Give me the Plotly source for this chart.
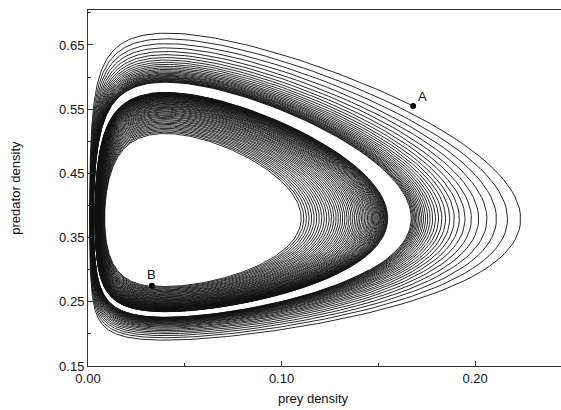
import numpy as np
import plotly.graph_objects as go

# ---- values ----
PREY_EQ = 0.040        # prey density at which predators neither grow nor decline
PRED_EQ = 0.38         # predator density at which prey neither grow nor decline
ALPHA = 1.6            # relative strength of predation on prey
BETA = 1.0             # relative strength of predator response
CYCLE_LEVEL = 0.064    # level of the limit cycle
RELAX = 0.075          # attraction towards the cycle
PREY_REF = 0.10        # prey density scale of the attraction (acts mostly at high prey)
START_A = [0.168, 0.555]
START_B = [0.033, 0.275]
STOP_GAP_A = 0.0055
STOP_GAP_B = 0.0032
X_TICKS = [0.00, 0.10, 0.20]
Y_TICKS = [0.15, 0.25, 0.35, 0.45, 0.55, 0.65]
X_RANGE = [0.0, 0.2444]
Y_RANGE = [0.15, 0.7045]

H_EQ = BETA * (PREY_EQ - PREY_EQ * np.log(PREY_EQ)) + ALPHA * (PRED_EQ - PRED_EQ * np.log(PRED_EQ))


def level(x, y):
    return BETA * (x - PREY_EQ * np.log(x)) + ALPHA * (y - PRED_EQ * np.log(y)) - H_EQ


def rhs(u, v):
    x, y = np.exp(u), np.exp(v)
    hu = BETA * (x - PREY_EQ)
    hv = ALPHA * (y - PRED_EQ)
    d = (level(x, y) - CYCLE_LEVEL) * RELAX * (x / PREY_REF)
    return -hv - d * hu, hu - d * hv


def trajectory(start, gap, dt=0.04, keep=3, max_steps=600000):
    u, v = np.log(start[0]), np.log(start[1])
    xs, ys = [start[0]], [start[1]]
    for i in range(max_steps):
        k1 = rhs(u, v)
        k2 = rhs(u + 0.5 * dt * k1[0], v + 0.5 * dt * k1[1])
        k3 = rhs(u + 0.5 * dt * k2[0], v + 0.5 * dt * k2[1])
        k4 = rhs(u + dt * k3[0], v + dt * k3[1])
        u += dt / 6 * (k1[0] + 2 * k2[0] + 2 * k3[0] + k4[0])
        v += dt / 6 * (k1[1] + 2 * k2[1] + 2 * k3[1] + k4[1])
        if i % keep == 0:
            xs.append(float(np.exp(u)))
            ys.append(float(np.exp(v)))
        if abs(level(np.exp(u), np.exp(v)) - CYCLE_LEVEL) < gap:
            break
    return xs, ys


ax, ay = trajectory(START_A, STOP_GAP_A)
bx, by = trajectory(START_B, STOP_GAP_B)

fig = go.Figure()
for xs, ys in [(ax, ay), (bx, by)]:
    fig.add_trace(go.Scatter(x=xs, y=ys, mode="lines",
                             line=dict(color="#111111", width=0.9),
                             hoverinfo="skip", showlegend=False))
fig.add_trace(go.Scatter(x=[START_A[0], START_B[0]], y=[START_A[1], START_B[1]],
                         mode="markers", marker=dict(color="#000000", size=6),
                         showlegend=False, hoverinfo="skip"))

font = dict(family="Liberation Sans, Arial, sans-serif", size=13, color="#111111")
fig.add_annotation(x=START_A[0], y=START_A[1], text="A", showarrow=False,
                   xanchor="left", yanchor="bottom", xshift=3, yshift=0, font=font)
fig.add_annotation(x=START_B[0], y=START_B[1], text="B", showarrow=False,
                   xanchor="center", yanchor="bottom", yshift=2, font=font)
fig.add_annotation(x=0.4757, y=-0.09, xref="paper", yref="paper", text="prey density",
                   showarrow=False, xanchor="center", yanchor="middle", font=font)
fig.add_annotation(x=-0.155, y=0.5, xref="paper", yref="paper", text="predator density",
                   showarrow=False, textangle=-90, xanchor="center", yanchor="middle", font=font)

fig.update_xaxes(range=X_RANGE, tickvals=X_TICKS, ticktext=[f"{t:.2f}" for t in X_TICKS],
                 ticks="inside", ticklen=5, tickcolor="#333", showline=True, linecolor="#333",
                 linewidth=1, mirror=True, showgrid=False, zeroline=False,
                 minor=dict(ticks="inside", ticklen=3, tickvals=[0.05, 0.15], tickcolor="#333"),
                 tickfont=font)
fig.update_yaxes(range=Y_RANGE, tickvals=Y_TICKS, ticktext=[f"{t:.2f}" for t in Y_TICKS],
                 ticks="inside", ticklen=5, tickcolor="#333", showline=True, linecolor="#333",
                 linewidth=1, showgrid=False, zeroline=False,
                 minor=dict(ticks="inside", ticklen=3, tickvals=[0.20, 0.30, 0.40, 0.50, 0.60, 0.70], tickcolor="#333"),
                 tickfont=font)
fig.update_layout(width=561, height=410, margin=dict(l=88, r=0, t=10, b=44),
                  paper_bgcolor="white", plot_bgcolor="white")
fig.write_html("out.html")
